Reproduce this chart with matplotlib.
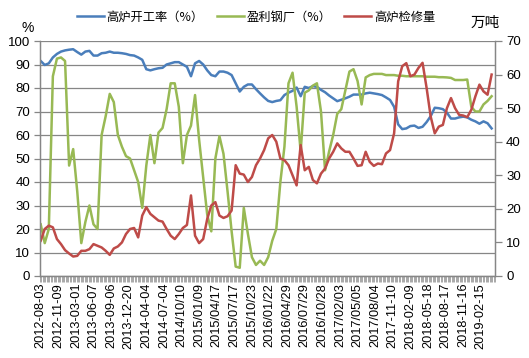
import numpy as np
import matplotlib
matplotlib.use("Agg")
import matplotlib.pyplot as plt
from matplotlib.ticker import FixedLocator

plt.rcParams['font.family'] = ['Noto Sans CJK SC', 'DejaVu Sans']

# category axis: weekly observations, 336 categories, series sampled every 3rd category
n_categories = 336
week_idx = np.arange(0, 336, 3)

tick_labels = ["2012-08-03", "2012-11-09", "2013-03-01", "2013-06-07", "2013-09-06",
               "2013-12-20", "2014-04-04", "2014-07-04", "2014/10/10", "2015/01/09",
               "2015/04/17", "2015/07/17", "2015/10/23", "2016/01/22", "2016/04/29",
               "2016/07/29", "2016/10/28", "2017/02/03", "2017/05/05", "2017/08/04",
               "2017-11-10", "2018-02-09", "2018-05-18", "2018-08-17", "2018-11-16",
               "2019-02-15"]
label_every = 13

blast_rate = [91.5, 89.8, 90.5, 93, 94.5, 95.5, 96, 96.3, 96.5, 95.3,
              94.2, 95.5, 95.8, 93.8, 93.8, 94.8, 95, 95.5, 95, 95,
              94.8, 94.5, 94, 93.8, 93, 92, 88, 87.5, 88, 88.4,
              88.6, 90, 90.5, 91, 91, 90, 89, 85, 90.5, 91.5,
              90, 87.5, 85.5, 85, 87, 87, 86.5, 85.5, 82, 78.5,
              80.5, 81.5, 81.5, 79.5, 77.7, 76, 74.5, 74, 74.5, 74.8,
              77, 78, 78.8, 80.2, 76.5, 80.5, 80, 80.8, 80.5, 79.2,
              78.2, 76.8, 75.6, 74.4, 75, 75.6, 76.3, 77.2, 77.2, 77.2,
              77.7, 78, 77.7, 77.4, 77, 76, 74.9, 72, 64.5, 62.5,
              62.8, 63.8, 64, 63, 63.5, 65.5, 68, 71.6, 71.4, 71,
              69.5, 67, 67, 67.5, 67.8, 67.5, 66.5, 65.8, 64.8, 65.8,
              65, 62.8]

profit_mills = [22, 14, 20, 85, 92.5, 93, 91.5, 47, 54, 36,
                14, 23, 30, 22, 20, 60, 68, 77.5, 74, 60,
                55, 51, 50, 45, 40, 29, 47, 60, 48, 61,
                63, 71, 82, 82, 72, 48, 60, 64, 77, 58,
                42, 26, 19, 50, 59.5, 52, 36, 19, 4, 3.5,
                29, 18, 8, 4.7, 6.5, 4.7, 8, 15, 20, 40,
                55, 82, 86.5, 72, 53, 78, 79, 81, 82, 70,
                45, 53, 60, 69, 71, 79, 87, 88, 83, 73,
                84.5, 85.5, 86, 86, 86, 85.5, 85.5, 85.5, 85.2, 85.2,
                85, 85, 85, 85, 85, 84.8, 84.8, 84.8, 84.6, 84.6,
                84.5, 84.3, 83.4, 83.4, 83.4, 83.6, 72, 70, 70, 73,
                74.5, 76.5]

maintenance = [10.5, 14, 15, 14.5, 11, 9.5, 7.7, 6.7, 5.8, 6,
               7.5, 7.5, 8, 9.5, 9, 8.5, 7.5, 6.3, 8.2, 8.8,
               10, 12.5, 14, 14.3, 11.5, 18, 20.5, 18.5, 17.5, 16.5,
               16.2, 14, 12, 11, 12.5, 14.3, 15.2, 24, 12, 9.8,
               11, 17, 21, 22, 18, 17.3, 17.8, 19.5, 33, 30.5,
               30.2, 28, 29.5, 33, 35, 37.5, 41, 42, 40, 35,
               34.5, 33, 30, 27, 39, 31.5, 32.5, 28.6, 27.6, 30.5,
               32, 35, 37, 39.5, 38, 37, 37, 35, 32.8, 33,
               37, 34, 32.8, 33.5, 33.3, 36.5, 37.5, 42.5, 58, 62.5,
               63.4, 59.5, 60, 62, 63.5, 56, 47.5, 42.5, 44.5, 45,
               50, 53, 50, 48, 47.8, 47.3, 49.5, 53.5, 57, 55,
               54, 60]

series_names = ["高炉开工率（%）", "盈利钢厂（%）", "高炉检修量"]
colors = ["#4A7EBB", "#98B954", "#BE4B48"]
grid_gray = "#868686"
num_font = ['Liberation Sans', 'DejaVu Sans']

fig = plt.figure(figsize=(5.29, 3.58), dpi=100)
W, H = 529, 358
ax = fig.add_axes([40 / W, 1 - 276 / H, 455 / W, 235 / H])
ax2 = ax.twinx()

l1, = ax.plot(week_idx, blast_rate, color=colors[0], lw=1.8, label=series_names[0], solid_joinstyle='round')
l2, = ax.plot(week_idx, profit_mills, color=colors[1], lw=1.8, label=series_names[1], solid_joinstyle='round')
l3, = ax2.plot(week_idx, maintenance, color=colors[2], lw=1.8, label=series_names[2], solid_joinstyle='round')

ax.set_xlim(-0.5, n_categories - 0.5)
ax.set_ylim(0, 100)
ax2.set_ylim(0, 70)
ax.set_yticks(np.arange(0, 101, 10))
ax2.set_yticks(np.arange(0, 71, 10))
ax.grid(axis='y', color=grid_gray, lw=0.9)
ax.set_axisbelow(True)

pos = np.arange(len(tick_labels)) * label_every
ax.set_xticks(pos)
ax.set_xticklabels(tick_labels, rotation=90, fontsize=9.2, color="#000000", family=num_font)
ax.xaxis.set_minor_locator(FixedLocator(np.arange(-0.5, n_categories, 1)))
ax.tick_params(axis='x', which='major', length=0, pad=5)
ax.tick_params(axis='x', which='minor', length=4, width=0.5, color=grid_gray, direction='out')
ax.tick_params(axis='y', which='major', length=4, width=0.9, color=grid_gray, labelsize=9.5, pad=3)
ax2.tick_params(axis='y', which='major', length=5, width=0.9, color=grid_gray, labelsize=9.5, pad=3)
for lab in ax.get_yticklabels() + ax2.get_yticklabels():
    lab.set_family(num_font)

for a in (ax, ax2):
    a.spines['top'].set_visible(False)
    for s in ('left', 'right', 'bottom'):
        a.spines[s].set_color(grid_gray)
        a.spines[s].set_linewidth(0.9)

fig.text(28 / W, 1 - 28 / H, "%", fontsize=10, ha='center', va='center', family=num_font)
fig.text(485 / W, 1 - 23 / H, "万吨", fontsize=10.5, ha='center', va='center')

fig.legend(handles=[l1, l2, l3], loc='center', bbox_to_anchor=(256 / W, 1 - 17 / H), ncol=3,
           frameon=False, fontsize=8.8, handlelength=2.2, handletextpad=0.2, columnspacing=1.1)

fig.savefig("out.png", dpi=100, facecolor='white')
